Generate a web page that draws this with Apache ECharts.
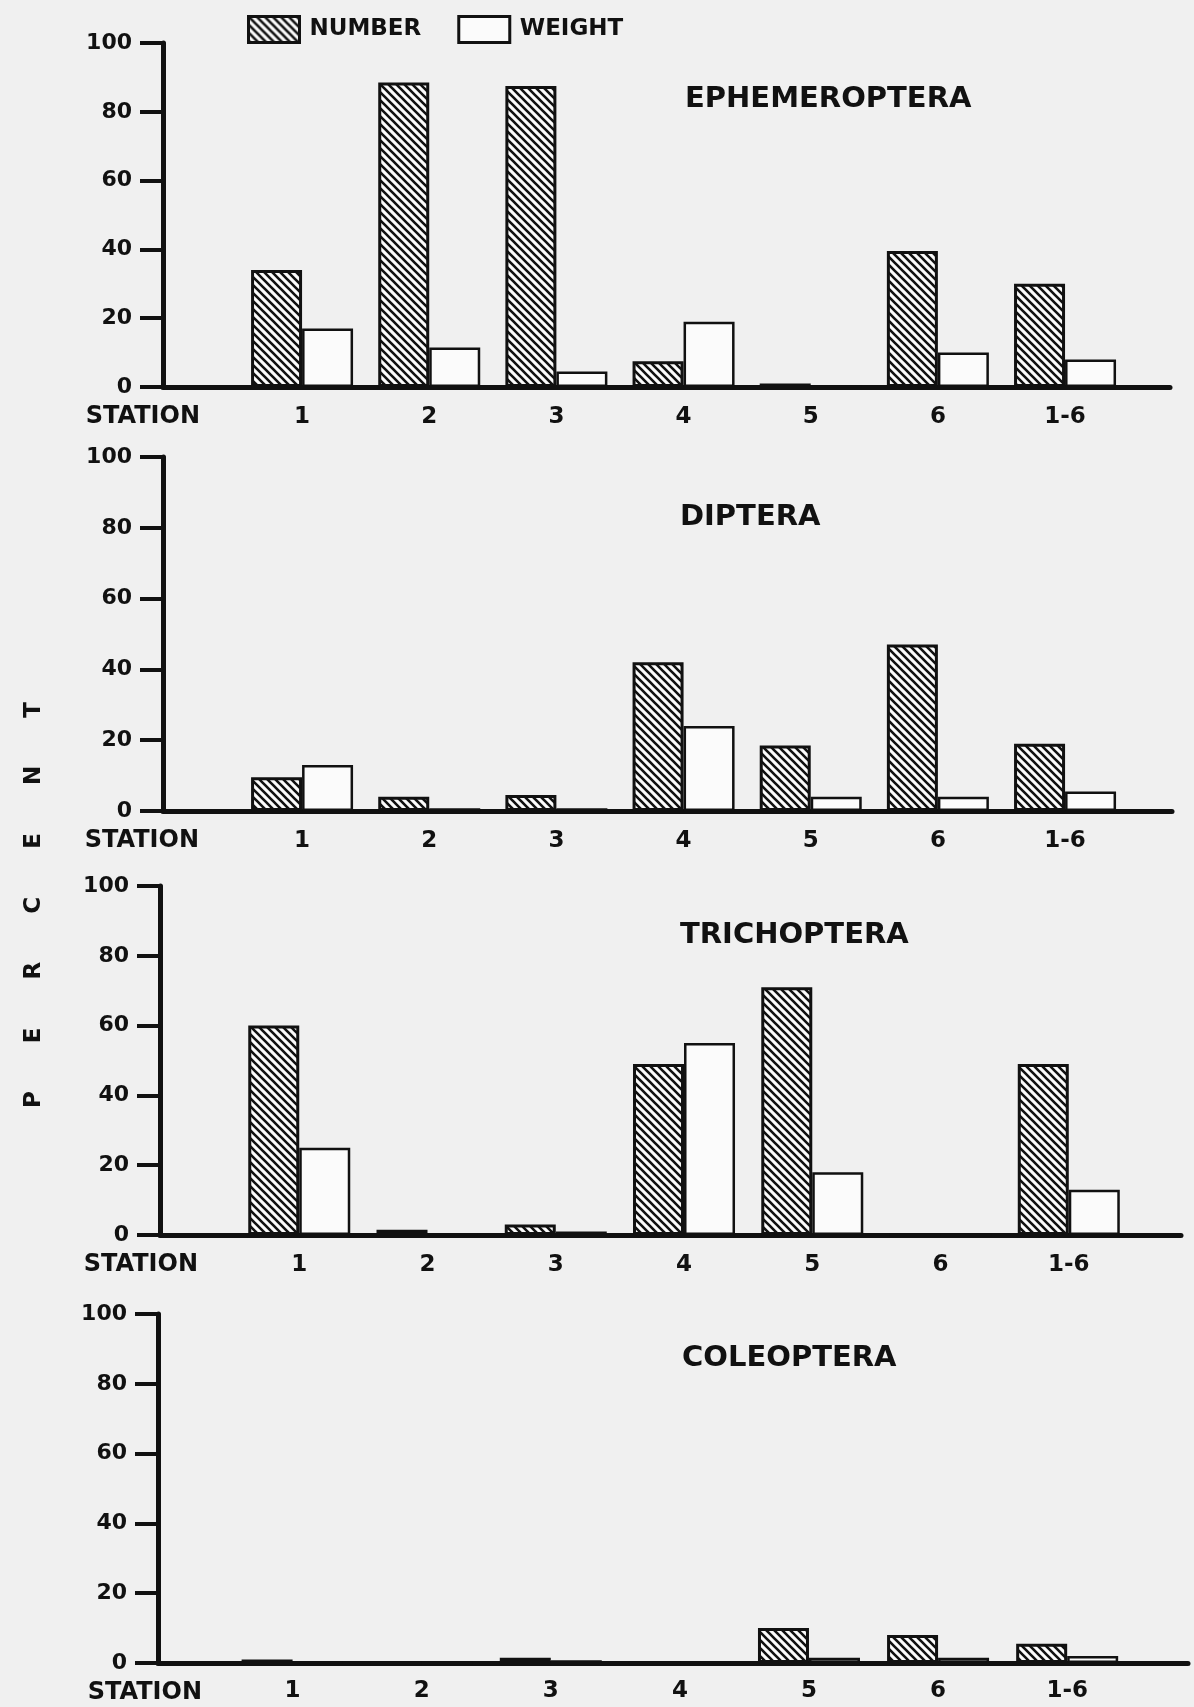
<!DOCTYPE html>
<html>
<head>
<meta charset="utf-8">
<script src="https://cdn.jsdelivr.net/npm/echarts@6/dist/echarts.min.js"></script>
<style>
html,body{margin:0;padding:0;background:#f0f0f0;}
#chart{width:1194px;height:1707px;}
</style>
</head>
<body>
<div id="chart"></div>
<script>
// ---- data ----
const stations = ['1', '2', '3', '4', '5', '6', '1-6'];
const groups = ['EPHEMEROPTERA', 'DIPTERA', 'TRICHOPTERA', 'COLEOPTERA'];
const seriesNames = ['NUMBER', 'WEIGHT'];
const yTickValues = [0, 20, 40, 60, 80, 100];

const ephNumber = [34, 88.5, 87.5, 7.5, 1, 39.5, 30];
const ephWeight = [17, 11.5, 4.5, 19, 0.3, 10, 8];
const dipNumber = [9.5, 4, 4.5, 42, 18.5, 47, 19];
const dipWeight = [13, 0.8, 0.8, 24, 4, 4, 5.5];
const triNumber = [60, 1.5, 3, 49, 71, 0, 49];
const triWeight = [25, 0.5, 1, 55, 18, 0, 13];
const colNumber = [1, 0, 1.5, 0, 10, 8, 5.5];
const colWeight = [0.5, 0, 0.8, 0.5, 1.5, 1.5, 2];

const numbers = [ephNumber, dipNumber, triNumber, colNumber];
const weights = [ephWeight, dipWeight, triWeight, colWeight];

// ---- layout (positions only) ----
const layout = [
  {left: 163, top: 43,   height: 344, right: 24, xmin: -1.0936, xmax: 6.8254, tl: 685, tt: 85,   nameGap: -37, lm: 19, lh: 60},
  {left: 163, top: 457,  height: 354, right: 22, xmin: -1.0936, xmax: 6.841,  tl: 680, tt: 503,  nameGap: -36, lm: 19, lh: 60},
  {left: 160, top: 886,  height: 349, right: 13, xmin: -1.0858, xmax: 6.875,  tl: 680, tt: 921,  nameGap: -38, lm: 19, lh: 60},
  {left: 158, top: 1314, height: 349, right: 6,  xmin: -1.0426, xmax: 6.936,  tl: 682, tt: 1344, nameGap: -44, lm: 17, lh: 60}
];

const FONT = 'DejaVu Sans';
const INK = '#111';

function hatchCanvas() {
  const c = document.createElement('canvas');
  c.width = 8; c.height = 8;
  const g = c.getContext('2d');
  g.fillStyle = '#fbfbfb';
  g.fillRect(0, 0, 8, 8);
  g.strokeStyle = INK;
  g.lineWidth = 2.6;
  g.beginPath();
  g.moveTo(-2, -2); g.lineTo(10, 10);
  g.moveTo(-2, 6); g.lineTo(2, 10);
  g.moveTo(6, -2); g.lineTo(10, 2);
  g.stroke();
  return c;
}
const hatch = {image: hatchCanvas(), repeat: 'repeat'};

const grids = [], xAxes = [], yAxes = [], series = [], titles = [];
layout.forEach((L, i) => {
  grids.push({left: L.left, top: L.top, height: L.height, right: L.right, outerBoundsMode: 'none'});
  titles.push({
    text: groups[i], left: L.tl, top: L.tt, padding: 0,
    textStyle: {fontFamily: FONT, fontWeight: 'bold', fontSize: 29, color: INK}
  });
  xAxes.push({
    gridIndex: i, type: 'value', min: L.xmin, max: L.xmax,
    name: 'STATION', nameLocation: 'start', nameGap: L.nameGap, nameMoveOverlap: false,
    nameTextStyle: {fontFamily: FONT, fontWeight: 'bold', fontSize: 24, color: INK,
                    verticalAlign: 'top', lineHeight: L.lh},
    splitLine: {show: false},
    axisLine: {show: true, onZero: false, lineStyle: {color: INK, width: 5}},
    axisTick: {show: false},
    axisLabel: {
      show: true, customValues: stations.map((s, k) => k),
      formatter: v => stations[Math.round(v)] || '',
      fontFamily: FONT, fontWeight: 'bold', fontSize: 23, color: INK, margin: L.lm
    }
  });
  yAxes.push({
    gridIndex: i, type: 'value', min: 0, max: 100, interval: 20,
    splitLine: {show: false},
    axisLine: {show: true, onZero: false, lineStyle: {color: INK, width: 5}},
    axisTick: {show: true, length: 23, lineStyle: {color: INK, width: 4}},
    axisLabel: {fontFamily: FONT, fontWeight: 'bold', fontSize: 22, color: INK, margin: 31}
  });
  series.push({
    type: 'bar', name: seriesNames[0], xAxisIndex: i, yAxisIndex: i,
    data: numbers[i].map((v, k) => [k, v]),
    barWidth: 51, barGap: '0%',
    itemStyle: {color: hatch, borderColor: INK, borderWidth: 3},
    emphasis: {disabled: true}
  });
  series.push({
    type: 'bar', name: seriesNames[1], xAxisIndex: i, yAxisIndex: i,
    data: weights[i].map((v, k) => [k, v]),
    barWidth: 51, barGap: '0%',
    itemStyle: {color: '#fbfbfb', borderColor: INK, borderWidth: 2.5},
    emphasis: {disabled: true}
  });
});

const chart = echarts.init(document.getElementById('chart'), null, {renderer: 'canvas'});
chart.setOption({
  backgroundColor: '#f0f0f0',
  animation: false,
  title: titles,
  legend: {
    left: 247, top: 15, padding: 0, itemWidth: 51, itemHeight: 26, itemGap: 36,
    icon: 'rect',
    textStyle: {fontFamily: FONT, fontWeight: 'bold', fontSize: 23, color: INK, padding: [0, 0, 0, 5]},
    data: [
      {name: seriesNames[0], itemStyle: {borderColor: INK, borderWidth: 3}},
      {name: seriesNames[1], itemStyle: {borderColor: INK, borderWidth: 3}}
    ]
  },
  grid: grids,
  xAxis: xAxes,
  yAxis: yAxes,
  series: series,
  graphic: [{
    type: 'text', x: 34, y: 905, rotation: Math.PI / 2,
    style: {
      text: 'P      E      R      C      E      N      T',
      font: 'bold 23px "DejaVu Sans"', fill: INK, align: 'center', verticalAlign: 'middle'
    }
  }]
});
</script>
</body>
</html>
